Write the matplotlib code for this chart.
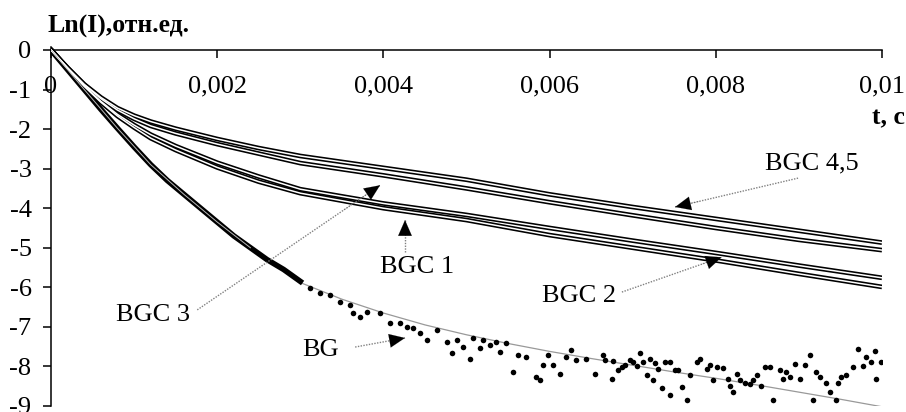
import matplotlib
matplotlib.use("Agg")
import matplotlib.pyplot as plt

plt.rcParams["font.family"] = ["Liberation Serif", "DejaVu Serif"]
plt.rcParams["axes.unicode_minus"] = False

# time axis for the BGC curves, s
t_bgc = [0, 0.0002, 0.0004, 0.0006, 0.0008, 0.001, 0.0012, 0.0015, 0.002,
         0.0025, 0.003, 0.004, 0.005, 0.006, 0.007, 0.008, 0.009, 0.01]
bgc45 = [0, -0.45, -0.87, -1.2, -1.47, -1.66, -1.81, -1.99, -2.25,
         -2.48, -2.68, -2.98, -3.28, -3.65, -3.97, -4.27, -4.57, -4.87]
bgc3 = [0, -0.46, -0.88, -1.23, -1.52, -1.74, -1.92, -2.11, -2.38,
        -2.62, -2.86, -3.17, -3.5, -3.85, -4.18, -4.5, -4.8, -5.06]
bgc1 = [0, -0.47, -0.91, -1.3, -1.63, -1.9, -2.14, -2.43, -2.85,
        -3.2, -3.52, -3.88, -4.17, -4.5, -4.82, -5.13, -5.45, -5.76]
bgc2 = [0, -0.47, -0.92, -1.32, -1.67, -1.96, -2.23, -2.53, -2.97,
        -3.33, -3.62, -4.0, -4.3, -4.68, -5.0, -5.32, -5.66, -5.99]

# BG, dense early part
t_bg = [0, 0.0002, 0.0004, 0.0006, 0.0008, 0.001, 0.0012, 0.0014, 0.0016,
        0.0018, 0.002, 0.0022, 0.0024, 0.0026, 0.0028, 0.003]
bg = [0, -0.5, -1.0, -1.5, -1.98, -2.45, -2.9, -3.3, -3.65,
      -4.0, -4.35, -4.7, -5.0, -5.3, -5.55, -5.85]

# BG, scattered points
t_bg_pts = [0.003117, 0.003237, 0.003357, 0.003478, 0.003598, 0.003638, 0.003718,
            0.003798, 0.003959, 0.004079, 0.0042, 0.00428, 0.00436, 0.00444,
            0.00452, 0.00464, 0.00476, 0.00482, 0.00488, 0.00496, 0.00504,
            0.00508, 0.00516, 0.0052, 0.005281, 0.005361, 0.005401, 0.005481,
            0.005561, 0.005621, 0.005722, 0.005842, 0.005882, 0.005922,
            0.005982, 0.006042, 0.006122, 0.006203, 0.006263, 0.006323,
            0.006443, 0.006543, 0.006646, 0.006667, 0.006767, 0.006747,
            0.006827, 0.006867, 0.006907, 0.006968, 0.007007, 0.007047,
            0.007088, 0.007128, 0.007168, 0.007208, 0.007248, 0.007268,
            0.007308, 0.007349, 0.007389, 0.007449, 0.007449, 0.007509,
            0.007549, 0.007589, 0.00765, 0.00769, 0.00777, 0.00781, 0.00789,
            0.00793, 0.00797, 0.00801, 0.00809, 0.00815, 0.00817, 0.00821,
            0.00825, 0.00829, 0.00835, 0.00841, 0.00845, 0.00849, 0.00855,
            0.00859, 0.00865, 0.00869, 0.00877, 0.00881, 0.00885, 0.00889,
            0.00895, 0.00901, 0.00907, 0.00913, 0.00917, 0.00921, 0.00925,
            0.00933, 0.00937, 0.00945, 0.00947, 0.00951, 0.00957, 0.00965,
            0.00971, 0.00977, 0.00981, 0.00987, 0.00991, 0.00993, 0.00999]
bg_pts = [-6.03, -6.15, -6.19, -6.36, -6.45, -6.66, -6.74,
          -6.62, -6.66, -6.89, -6.91, -7.0, -7.04, -7.16,
          -7.33, -7.08, -7.37, -7.67, -7.32, -7.5, -7.8,
          -7.29, -7.54, -7.33, -7.46, -7.37, -7.63, -7.42,
          -8.13, -7.71, -7.76, -8.26, -8.34, -7.96,
          -7.71, -7.96, -8.18, -7.76, -7.59, -7.84,
          -7.8, -8.18, -7.71, -7.84, -7.86, -8.33,
          -8.09, -8.02, -7.96, -7.84, -7.88, -7.99,
          -7.67, -7.88, -8.22, -7.8, -8.34, -7.92,
          -8.07, -8.55, -7.88, -7.88, -8.72, -8.09,
          -8.09, -8.53, -8.85, -8.22, -7.88, -7.8, -8.07,
          -7.96, -8.34, -8.02, -8.05, -8.33, -8.5, -8.64,
          -8.18, -8.34, -8.43, -8.44, -8.34, -8.22, -8.5,
          -8.01, -8.01, -8.85, -8.09, -8.33, -8.13, -8.26,
          -7.94, -8.32, -7.96, -7.71, -8.85, -8.13, -8.26,
          -8.43, -8.64, -8.85, -8.43, -8.26, -8.22, -8.01,
          -7.57, -7.99, -7.75, -7.88, -7.6, -8.33, -7.88]

# fitted curve for BG
t_fit = [0, 0.0004, 0.0008, 0.0012, 0.0016, 0.002, 0.0024, 0.003, 0.0035,
         0.004, 0.0045, 0.005, 0.0055, 0.006, 0.0065, 0.007, 0.0075, 0.008,
         0.0085, 0.009, 0.0095, 0.01]
bg_fit = [0, -1.0, -1.98, -2.9, -3.65, -4.35, -5.0, -5.88, -6.3,
          -6.65, -6.95, -7.2, -7.42, -7.62, -7.8, -7.97, -8.14, -8.3,
          -8.47, -8.65, -8.83, -9.02]

x_ticks = [0, 0.002, 0.004, 0.006, 0.008, 0.01]
x_labels = ["0", "0,002", "0,004", "0,006", "0,008", "0,01"]
y_ticks = [0, -1, -2, -3, -4, -5, -6, -7, -8, -9]
y_labels = ["0", "-1", "-2", "-3", "-4", "-5", "-6", "-7", "-8", "-9"]

# label text, text position, arrow start, arrow tip
notes = [
    ("BGC 4,5", (0.00916, -2.87), (0.00899, -3.24), (0.00751, -3.97)),
    ("BGC 3", (0.00123, -6.7), (0.00176, -6.57), (0.00396, -3.42)),
    ("BGC 1", (0.0044, -5.48), (0.00426, -5.1), (0.00426, -4.3)),
    ("BGC 2", (0.00635, -6.22), (0.00687, -6.12), (0.00807, -5.24)),
    ("BG", (0.00324, -7.59), (0.00366, -7.51), (0.00426, -7.28)),
]

fs = 19

fig = plt.figure(figsize=(9.06, 4.12), dpi=100)
ax = fig.add_axes([0.0563, 0.0146, 0.9172, 0.8718])

for ys in [bgc45, bgc3, bgc1, bgc2]:
    ax.plot(t_bgc, ys, color="black", lw=3.4, solid_capstyle="butt", zorder=3)
    ax.plot(t_bgc, ys, color="white", lw=1.1, zorder=4)

ax.plot(t_fit, bg_fit, color="#999999", lw=0.9, zorder=2)
ax.plot(t_bg, bg, color="black", lw=4.0, zorder=3)
ax.plot(t_bg_pts, bg_pts, "o", color="black", ms=4.0, mew=0, zorder=3)
ax.plot(t_fit[:7], bg_fit[:7], color="#bbbbbb", lw=0.7, zorder=4)

for text, tpos, start, tip in notes:
    ax.text(tpos[0], tpos[1], text, fontsize=fs, ha="center", va="center")
    ax.plot([start[0], tip[0]], [start[1], tip[1]], color="#808080",
            lw=1.0, ls=(0, (1, 1)), zorder=5)
    hx = start[0] + 0.8 * (tip[0] - start[0])
    hy = start[1] + 0.8 * (tip[1] - start[1])
    ax.annotate("", xy=tip, xytext=(hx, hy), zorder=6,
                arrowprops=dict(arrowstyle="-|>,head_length=0.8,head_width=0.35",
                                color="black", lw=0.1, shrinkA=0, shrinkB=0,
                                mutation_scale=14))

ax.set_xlim(0, 0.01)
ax.set_ylim(-9, 0.08)
ax.spines["top"].set_visible(False)
ax.spines["right"].set_visible(False)
ax.spines["bottom"].set_position(("data", 0))
ax.spines["bottom"].set_linewidth(1.1)
ax.spines["left"].set_linewidth(1.1)

ax.set_xticks(x_ticks)
ax.set_xticklabels(x_labels)
ax.set_yticks(y_ticks)
ax.set_yticklabels(y_labels)
ax.tick_params(axis="x", direction="out", length=5.5, width=1.1, pad=13, labelsize=fs)
ax.tick_params(axis="y", direction="out", length=5.5, width=1.1, pad=8.5, labelsize=fs)

fig.text(47 / 906, 1 - 26 / 412, "Ln(I),отн.ед.", fontsize=18.5, fontweight="bold",
         ha="left", va="center")
fig.text(905 / 906, 1 - 118 / 412, "t, c", fontsize=18.5, fontweight="bold",
         ha="right", va="center")

fig.savefig("out.png", dpi=100)
